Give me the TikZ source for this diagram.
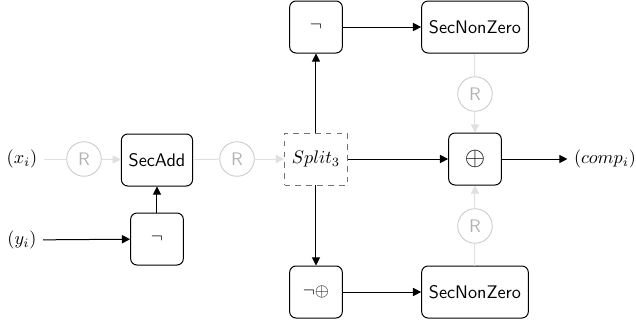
\documentclass[tikz,border=0pt]{standalone}
\usetikzlibrary{arrows.meta}
\begin{document}
\begin{tikzpicture}[x=0.55pt,y=-0.55pt,>={Triangle[length=4.5pt,width=4.5pt]},line width=0.55pt,font=\sffamily]
    \tikzstyle{block}=[draw=black,rounded corners=3.5pt,minimum width=29pt,minimum height=28.6pt,inner sep=4pt]
    \tikzstyle{rnode}=[circle,draw=black!20,text=black!30,line width=0.5pt,minimum size=19pt,inner sep=0pt]
    \tikzstyle{faint}=[draw=black!12]
    \tikzstyle{splitbox}=[draw=black!55,dashed,line width=0.5pt,minimum width=34.6pt,minimum height=28.6pt]
    \useasboundingbox (0,0) rectangle (636,327);

    % inputs and output
    \node (xin) at (22,159) {$(x_i)$};
    \node (yin) at (22,240) {$(y_i)$};
    \node (comp) at (605,159) {$(comp_i)$};

    % operations
    \node[block] (secadd) at (157,160) {SecAdd};
    \node[block] (notb) at (157,239) {$\neg$};
    \node[splitbox] (split) at (316,159) {$Split_3$};
    \node[block] (nottop) at (316,27) {$\neg$};
    \node[block] (notxor) at (316,292) {$\neg\oplus$};
    \node[block] (snztop) at (475,27) {SecNonZero};
    \node[block] (snzbot) at (475,292) {SecNonZero};
    \node[block] (xor) at (475,159) {\Large$\oplus$};

    % refresh gadgets
    \foreach \name/\x/\y in {R1/84/159, R2/237/159, Rtop/475/94, Rbot/475/226}
        \node[rnode] (\name) at (\x,\y) {R};

    \foreach \from/\to in {xin/R1, secadd/R2, snztop/Rtop, snzbot/Rbot}
        \draw[faint] (\from) -- (\to);
    \foreach \from/\to in {R1/secadd, R2/split, Rtop/xor, Rbot/xor}
        \draw[faint,->] (\from) -- (\to);

    \foreach \from/\to in {yin/notb, notb/secadd, split/nottop, split/xor, split/notxor, nottop/snztop, notxor/snzbot, xor/comp}
        \draw[->] (\from) -- (\to);
\end{tikzpicture}
\end{document}
